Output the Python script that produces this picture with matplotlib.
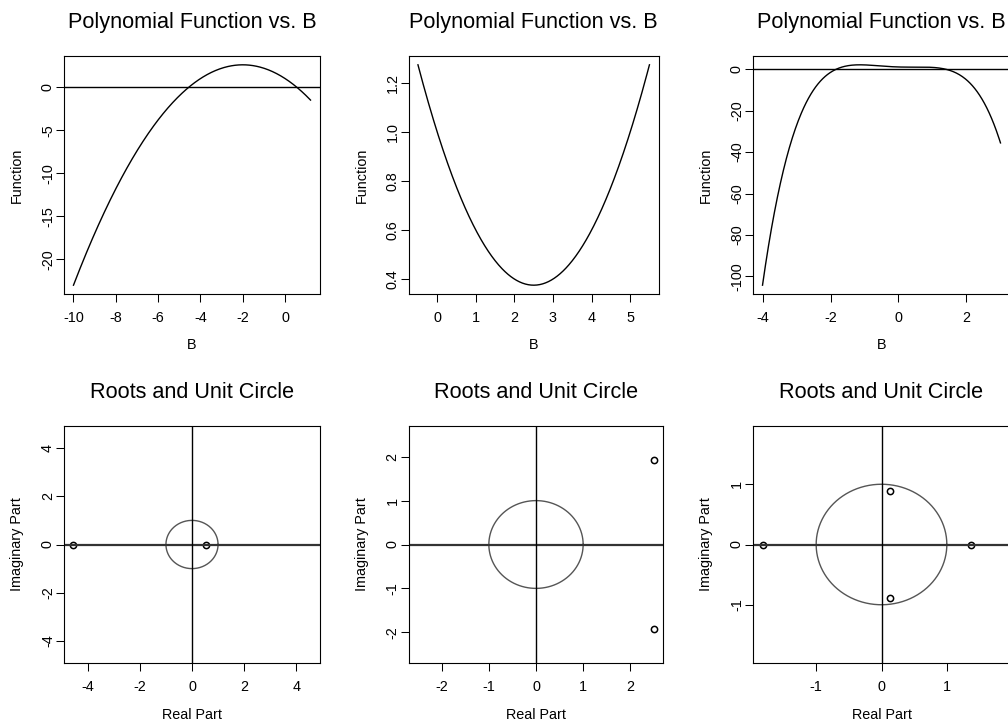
import numpy as np
import matplotlib.pyplot as plt

plt.rcParams['font.family'] = ['Liberation Sans', 'DejaVu Sans']
plt.rcParams['axes.unicode_minus'] = False

# Polynomial coefficients in ascending powers of B
coef_1 = [1, -1.6, -0.4]
coef_2 = [1, -0.5, 0.1]
coef_3 = [1, -0.5, 0.9, -0.1, -0.5]

# B ranges for the curves
b_range_1 = (-10, 1.2)
b_range_2 = (-0.5, 5.5)
b_range_3 = (-4, 3)

# tick positions
fx_ticks = [[-10, -8, -6, -4, -2, 0], [0, 1, 2, 3, 4, 5], [-4, -2, 0, 2]]
fy_ticks = [[-20, -15, -10, -5, 0], [0.4, 0.6, 0.8, 1.0, 1.2],
            [-100, -80, -60, -40, -20, 0]]
fy_labels = [["-20", "-15", "-10", "-5", "0"], ["0.4", "0.6", "0.8", "1.0", "1.2"],
             ["-100", "-80", "-60", "-40", "-20", "0"]]
rx_ticks = [[-4, -2, 0, 2, 4], [-2, -1, 0, 1, 2], [-1, 0, 1]]
ry_ticks = [[-4, -2, 0, 2, 4], [-2, -1, 0, 1, 2], [-1, 0, 1]]

coefs = [coef_1, coef_2, coef_3]
b_ranges = [b_range_1, b_range_2, b_range_3]

W, H = 1008, 724
fig = plt.figure(figsize=(W / 100, H / 100), dpi=100)

# panel boxes in pixels: (left, top, width, height)
top_boxes = [(64, 56, 256, 238), (408.7, 56, 250, 238), (753, 56, 257, 238)]
bot_boxes = [(64, 426, 256, 237), (408.7, 426, 254.6, 237), (753, 426, 257, 237)]


def make_axes(box):
    l, t, w, h = box
    return fig.add_axes([l / W, 1 - (t + h) / H, w / W, h / H])


def r_range(lo, hi):
    # R-style 4% axis expansion
    d = (hi - lo) * 0.04
    return lo - d, hi + d


def style(ax):
    for s in ax.spines.values():
        s.set_linewidth(0.8)
    ax.tick_params(length=5.5, width=0.75, labelsize=10.4, direction='out')
    ax.tick_params(axis='x', pad=7)
    ax.tick_params(axis='y', pad=1)
    for lab in ax.get_yticklabels():
        lab.set_rotation(90)
        lab.set_va('center')
    ax.set_title(ax.get_title(), fontsize=15.6, pad=20.5)


for i in range(3):
    ax = make_axes(top_boxes[i])
    b = np.linspace(b_ranges[i][0], b_ranges[i][1], 400)
    f = np.polynomial.polynomial.polyval(b, coefs[i])
    ax.plot(b, f, color='black', lw=1.0)
    ax.set_xlim(*r_range(b.min(), b.max()))
    ax.set_ylim(*r_range(f.min(), f.max()))
    ax.axhline(0, color='black', lw=1.0)
    ax.set_xticks(fx_ticks[i])
    ax.set_yticks(fy_ticks[i])
    ax.set_yticklabels(fy_labels[i])
    ax.set_title("Polynomial Function vs. B")
    ax.set_xlabel("B", fontsize=10.4, va='center')
    ax.set_ylabel("Function", fontsize=10.4, va='center')
    h = top_boxes[i][3]
    w = top_boxes[i][2]
    ax.xaxis.set_label_coords(0.5, -51 / h)
    ax.yaxis.set_label_coords(-47 / w, 0.5)
    style(ax)

theta = np.linspace(0, 2 * np.pi, 300)
for i in range(3):
    ax = make_axes(bot_boxes[i])
    roots = np.polynomial.polynomial.polyroots(coefs[i]).astype(complex)
    lim = max(np.abs(roots.real).max(), np.abs(roots.imag).max(), 1)
    ax.plot(np.cos(theta), np.sin(theta), color='#555555', lw=1.0)
    ax.plot(roots.real, roots.imag, 'o', mfc='none', mec='black', mew=1.1, ms=4.5)
    ax.set_xlim(*r_range(-lim, lim))
    ax.set_ylim(*r_range(-lim, lim))
    ax.axhline(0, color='#333333', lw=1.6)
    ax.axvline(0, color='black', lw=1.0)
    ax.set_xticks(rx_ticks[i])
    ax.set_yticks(ry_ticks[i])
    ax.set_title("Roots and Unit Circle")
    ax.set_xlabel("Real Part", fontsize=10.4, va='center')
    ax.set_ylabel("Imaginary Part", fontsize=10.4, va='center')
    h = bot_boxes[i][3]
    w = bot_boxes[i][2]
    ax.xaxis.set_label_coords(0.5, -52 / h)
    ax.yaxis.set_label_coords(-47 / w, 0.5)
    style(ax)

fig.savefig("out.png", dpi=100)
